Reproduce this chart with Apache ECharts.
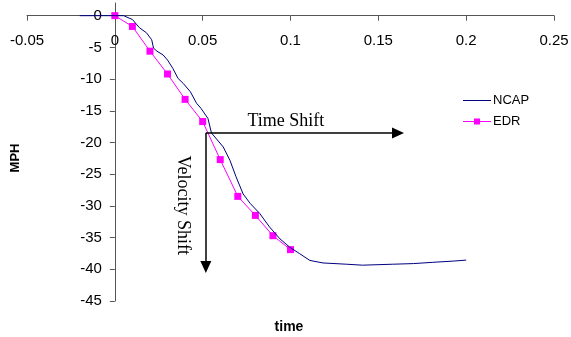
<!DOCTYPE html>
<html>
<head>
<meta charset="utf-8">
<script src="https://cdn.jsdelivr.net/npm/echarts@6/dist/echarts.min.js"></script>
<style>
  html, body { margin: 0; padding: 0; background: #fff; }
  #chart { width: 571px; height: 337px; }
</style>
</head>
<body>
<div id="chart"></div>
<script>
// NCAP crash-test velocity trace (time in s, velocity change in MPH)
const ncapTime = [-0.02, 0, 0.005, 0.010, 0.014, 0.018, 0.021, 0.022, 0.024, 0.0275, 0.030, 0.033,
  0.036, 0.039, 0.043, 0.0465, 0.049, 0.053, 0.055, 0.0617, 0.0655, 0.069, 0.073, 0.077, 0.0825,
  0.088, 0.094, 0.0995, 0.105, 0.111, 0.1185, 0.132, 0.141, 0.158, 0.170, 0.181, 0.193, 0.200];
const ncapMph = [0, 0, 0, -0.6, -1.9, -2.7, -3.8, -5.1, -5.6, -6.2, -7.0, -8.3,
  -9.9, -10.7, -12.0, -13.8, -14.6, -16.2, -18.5, -20.7, -22.8, -25.4, -28.1, -29.6, -31.2,
  -33.3, -35.2, -36.5, -37.5, -38.6, -39.0, -39.2, -39.35, -39.2, -39.1, -38.9, -38.7, -38.55];

// Event data recorder samples, every 10 ms
const edrTime = [0, 0.01, 0.02, 0.03, 0.04, 0.05, 0.06, 0.07, 0.08, 0.09, 0.10];
const edrMph = [0, -1.7, -5.6, -9.2, -13.2, -16.7, -22.7, -28.5, -31.5, -34.7, -36.9];

// Axis ticks
const xTicks = [-0.05, 0, 0.05, 0.1, 0.15, 0.2, 0.25];
const yTicks = [-45, -40, -35, -30, -25, -20, -15, -10, -5, 0];

// Shift arrows: common origin, end of time shift, end of velocity shift
const shiftOrigin = [0.0518, -18.5];
const timeShiftEnd = [0.1612, -18.5];
const velocityShiftEnd = [0.0518, -39.65];
const timeLabelAt = [0.0974, -18.5];
const velocityLabelAt = [0.0387, -29.9];

const zip = (xs, ys) => xs.map((x, i) => [x, ys[i]]);

const chart = echarts.init(document.getElementById('chart'), null, { renderer: 'canvas' });

const GRID = { left: 27, right: 17, top: 3, bottom: 36 };
const axisLineStyle = { color: '#555', width: 1 };
const sans = 'Liberation Sans, Arial, sans-serif';
const labelFont = { color: '#000', fontSize: 15, fontFamily: sans };

// Legend glyphs: plain line for NCAP, line with square marker for EDR
const ncapIcon = 'path://M0 6.5H28V7.5H0Z';
const edrIcon = 'path://M0 6.5H11V4H17V6.5H28V7.5H17V10H11V7.5H0Z';

chart.setOption({
  animation: false,
  backgroundColor: '#fff',
  grid: Object.assign({ containLabel: false, outerBoundsMode: 'none' }, GRID),
  xAxis: {
    type: 'value',
    position: 'top',
    min: xTicks[0],
    max: xTicks[xTicks.length - 1],
    interval: 0.05,
    axisLine: { show: true, onZero: false, lineStyle: axisLineStyle },
    axisTick: { show: true, inside: true, length: 5, lineStyle: axisLineStyle },
    axisLabel: Object.assign({ inside: true, margin: 18 }, labelFont),
    splitLine: { show: false }
  },
  yAxis: {
    type: 'value',
    position: 'left',
    min: -45,
    max: 2,
    axisLine: { show: true, onZero: false, lineStyle: axisLineStyle },
    axisTick: { show: true, length: 5, lineStyle: axisLineStyle, customValues: yTicks },
    axisLabel: Object.assign({ margin: 13, customValues: yTicks }, labelFont),
    splitLine: { show: false }
  },
  legend: {
    orient: 'vertical',
    left: 458,
    top: 89,
    itemWidth: 28,
    itemHeight: 14,
    itemGap: 8,
    data: [
      { name: 'NCAP', icon: ncapIcon },
      { name: 'EDR', icon: edrIcon }
    ],
    textStyle: { color: '#000', fontSize: 13, fontFamily: sans, padding: [0, 0, 0, -3] }
  },
  series: [
    {
      name: 'NCAP',
      type: 'line',
      data: zip(ncapTime, ncapMph),
      symbol: 'none',
      lineStyle: { color: '#000080', width: 1 },
      itemStyle: { color: '#000080' },
      z: 3
    },
    {
      name: 'EDR',
      type: 'line',
      data: zip(edrTime, edrMph),
      symbol: 'rect',
      symbolSize: 7,
      lineStyle: { color: '#FF00FF', width: 1 },
      itemStyle: { color: '#FF00FF' },
      z: 2
    },
    {
      name: 'shifts',
      type: 'line',
      data: [],
      markLine: {
        silent: true,
        animation: false,
        symbol: ['none', 'triangle'],
        symbolSize: [11, 12],
        label: { show: false },
        lineStyle: { color: '#000', width: 1.5, type: 'solid' },
        data: [
          [{ coord: shiftOrigin }, { coord: timeShiftEnd }],
          [{ coord: shiftOrigin }, { coord: velocityShiftEnd }]
        ]
      }
    }
  ]
});

// Move both axes so they cross at the data origin (0, 0)
const origin = chart.convertToPixel({ gridIndex: 0 }, [0, 0]);
chart.setOption({
  xAxis: { offset: -(origin[1] - GRID.top) },
  yAxis: { offset: -(origin[0] - GRID.left) }
});

// Annotation texts anchored to data positions
const tPos = chart.convertToPixel({ gridIndex: 0 }, timeLabelAt);
const vPos = chart.convertToPixel({ gridIndex: 0 }, velocityLabelAt);
const serif = 'Liberation Serif, "Times New Roman", serif';

chart.setOption({
  graphic: [
    {
      type: 'text', x: tPos[0], y: tPos[1] - 12,
      style: { text: 'Time Shift', font: '18px ' + serif, fill: '#000', align: 'center', verticalAlign: 'middle' }
    },
    {
      type: 'text', x: vPos[0], y: vPos[1], rotation: -Math.PI / 2,
      style: { text: 'Velocity Shift', font: '18px ' + serif, fill: '#000', align: 'center', verticalAlign: 'middle' }
    },
    {
      type: 'text', x: 15, y: 158, rotation: Math.PI / 2,
      style: { text: 'MPH', font: 'bold 13px ' + sans, fill: '#000', align: 'center', verticalAlign: 'middle' }
    },
    {
      type: 'text', x: 289, y: 327,
      style: { text: 'time', font: 'bold 14px ' + sans, fill: '#000', align: 'center', verticalAlign: 'middle' }
    }
  ]
});
</script>
</body>
</html>
